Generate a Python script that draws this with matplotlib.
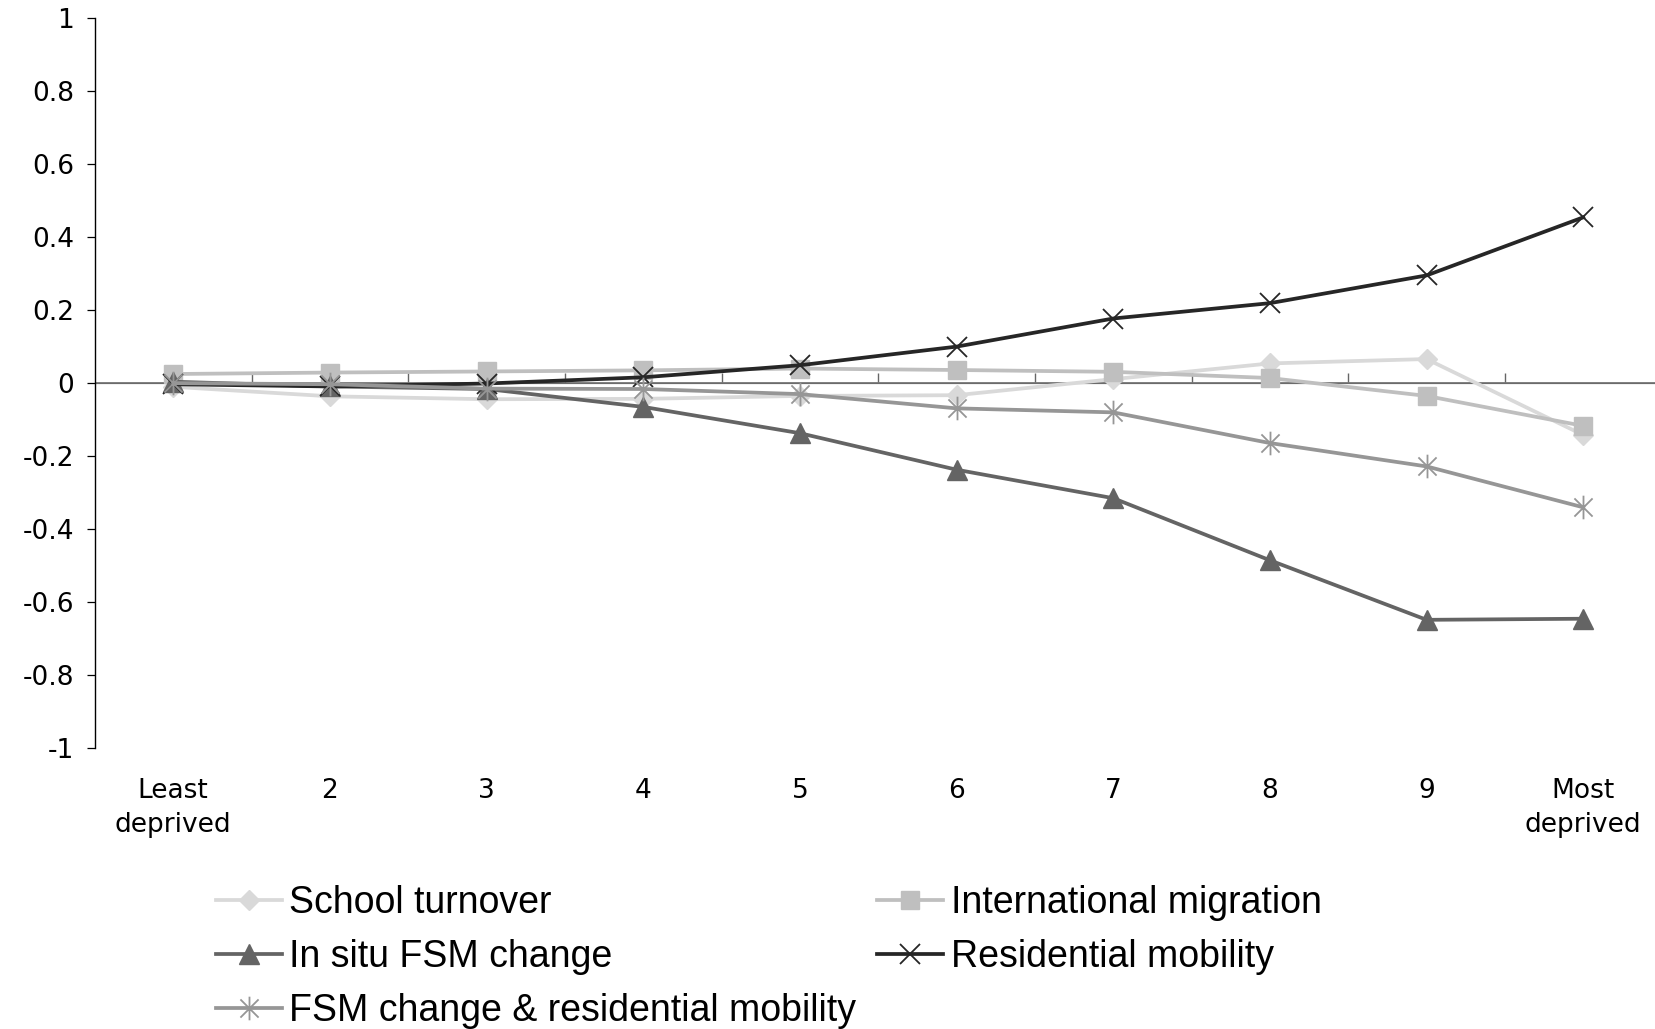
import numpy as np
import matplotlib.pyplot as plt
from matplotlib.path import Path

categories = ['Least\ndeprived', '2', '3', '4', '5', '6', '7', '8', '9', 'Most\ndeprived']

school_turnover = [-0.010, -0.036, -0.044, -0.043, -0.035, -0.033, 0.011, 0.054, 0.066, -0.142]
international_migration = [0.025, 0.029, 0.032, 0.035, 0.040, 0.036, 0.031, 0.014, -0.035, -0.117]
in_situ_fsm = [0.004, -0.009, -0.016, -0.065, -0.137, -0.237, -0.315, -0.485, -0.648, -0.645]
residential_mobility = [-0.003, -0.009, -0.001, 0.016, 0.049, 0.100, 0.177, 0.219, 0.295, 0.454]
fsm_residential = [0.000, -0.003, -0.015, -0.016, -0.030, -0.069, -0.080, -0.164, -0.228, -0.340]

# Excel style asterisk: x plus a vertical stroke
asterisk = Path([(-1, -1), (1, 1), (-1, 1), (1, -1), (0, -1.3), (0, 1.3)],
                [Path.MOVETO, Path.LINETO, Path.MOVETO, Path.LINETO, Path.MOVETO, Path.LINETO])

fig = plt.figure(figsize=(16.55, 10.29), dpi=100)
ax = fig.add_axes([0.0573, 0.2727, 0.9467, 0.7099])
x = np.arange(len(categories))

lw = 2.7
l1, = ax.plot(x, school_turnover, color='#d9d9d9', lw=lw, marker='D', ms=10,
              mec='#d9d9d9', mfc='#d9d9d9', label='School turnover')
l2, = ax.plot(x, international_migration, color='#bfbfbf', lw=lw, marker='s', ms=13,
              mec='#bfbfbf', mfc='#bfbfbf', label='International migration')
l3, = ax.plot(x, in_situ_fsm, color='#646464', lw=lw, marker='^', ms=15,
              mec='#646464', mfc='#646464', label='In situ FSM change')
l4, = ax.plot(x, residential_mobility, color='#262626', lw=lw, marker='x', ms=15,
              mew=1.3, mec='#262626', label='Residential mobility')
l5, = ax.plot(x, fsm_residential, color='#969696', lw=lw, marker=asterisk, ms=17,
              mew=1.3, mec='#969696', mfc='none', label='FSM change & residential mobility')

ax.set_xlim(-0.5, len(categories) - 0.5)
ax.set_ylim(-1, 1)
ax.set_yticks(np.arange(-1, 1.01, 0.2))
ax.set_yticklabels(['-1', '-0.8', '-0.6', '-0.4', '-0.2', '0', '0.2', '0.4', '0.6', '0.8', '1'])
ax.set_xticks(x)
ax.set_xticklabels(categories, linespacing=1.4)

for s in ['top', 'right', 'bottom']:
    ax.spines[s].set_visible(False)
ax.spines['left'].set_linewidth(1.0)
ax.tick_params(axis='y', length=6, width=0.9, pad=9, labelsize=19)
ax.tick_params(axis='x', length=0, pad=21, labelsize=19)

# horizontal axis line at zero with tick marks between categories
ax.axhline(0, color='#777777', lw=1.3, zorder=1)
sec = ax.secondary_xaxis(0.5)
sec.set_xticks(np.arange(0.5, len(categories) - 1, 1.0))
sec.set_xticklabels([])
sec.spines['bottom'].set_visible(False)
sec.tick_params(length=7, width=1.0, color='#666666', direction='out')

handles = [l1, l3, l5, l2, l4]
fig.legend(handles=handles, loc='upper left', bbox_to_anchor=(0.1307, 0.140),
           ncol=2, frameon=False, borderaxespad=0, borderpad=0,
           prop={'family': 'Liberation Sans', 'size': 27},
           handlelength=1.75, handletextpad=0.2, columnspacing=0.56, labelspacing=0.48)

plt.savefig('out.png', dpi=100)
